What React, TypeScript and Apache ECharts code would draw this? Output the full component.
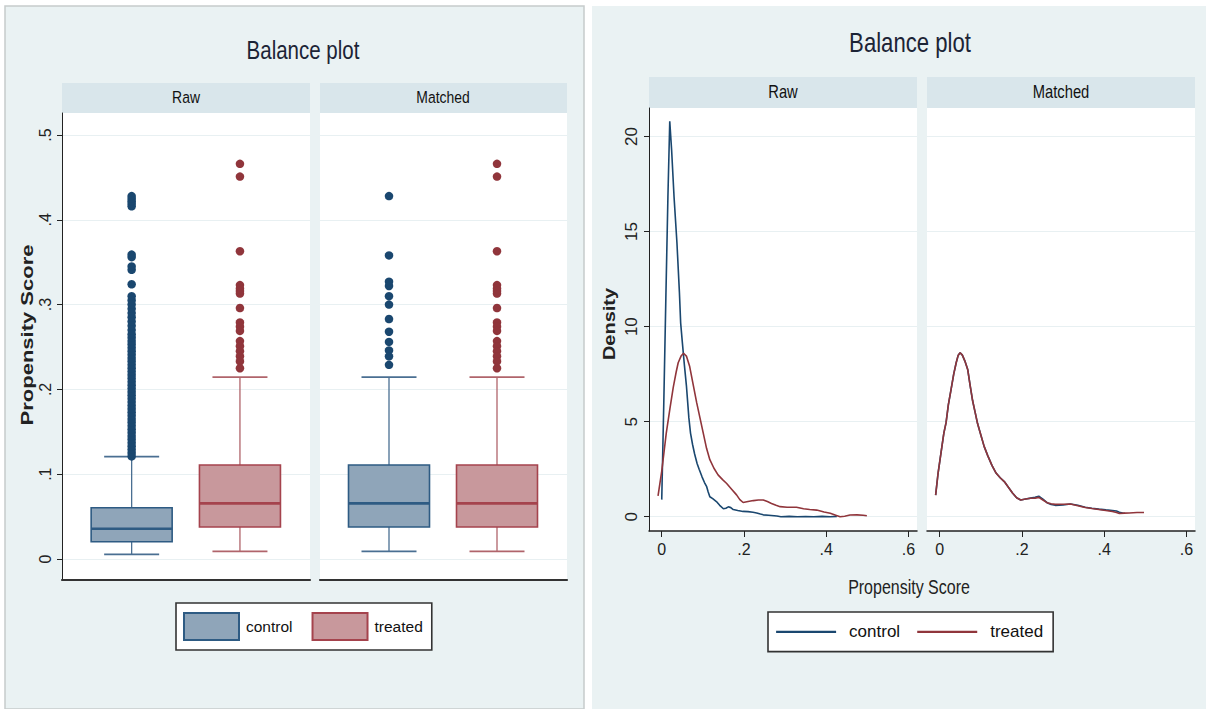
import React, { useEffect, useRef } from "react";
import * as echarts from "echarts";

// ---------- data ----------
const groups = ["control", "treated"];
const leftTicks = [0, 0.1, 0.2, 0.3, 0.4, 0.5];
const densityYTicks = [0, 5, 10, 15, 20];
const densityXTicks = [0, 0.2, 0.4, 0.6];

// [low whisker, q1, median, q3, high whisker]
const rawBoxControl = [0.0055, 0.0204, 0.0357, 0.0605, 0.1206];
const rawBoxTreated = [0.009, 0.0377, 0.0656, 0.1108, 0.2145];
const matchedBoxControl = [0.009, 0.0377, 0.0656, 0.1108, 0.2145];
const matchedBoxTreated = [0.009, 0.0377, 0.0656, 0.1108, 0.2145];

const rawOutControl = [
  0.121, 0.125, 0.129, 0.133, 0.137, 0.141, 0.145, 0.149, 0.153, 0.157, 0.161, 0.165,
  0.169, 0.173, 0.177, 0.181, 0.185, 0.189, 0.193, 0.197, 0.201, 0.205, 0.209, 0.213,
  0.217, 0.221, 0.225, 0.229, 0.233, 0.237, 0.241, 0.245, 0.249, 0.253, 0.257, 0.261,
  0.265, 0.27, 0.275, 0.28, 0.285, 0.29, 0.295, 0.3, 0.305, 0.31, 0.324, 0.341, 0.345,
  0.356, 0.359, 0.416, 0.419, 0.422, 0.425, 0.428,
];
const rawOutTreated = [
  0.466, 0.451, 0.363, 0.323, 0.319, 0.316, 0.313, 0.296, 0.279, 0.274, 0.269, 0.257,
  0.251, 0.245, 0.239, 0.233, 0.225,
];
const matchedOutControl = [
  0.428, 0.358, 0.327, 0.322, 0.31, 0.3, 0.283, 0.268, 0.256, 0.246, 0.239, 0.229,
];
const matchedOutTreated = [
  0.466, 0.451, 0.363, 0.323, 0.319, 0.316, 0.313, 0.296, 0.279, 0.274, 0.269, 0.257,
  0.251, 0.245, 0.239, 0.233, 0.225,
];

const rawControlDensity = [
  [0.0, 0.9], [0.005, 6.0], [0.01, 11.5], [0.015, 16.8], [0.0195, 20.8], [0.024, 19.3],
  [0.03, 16.8], [0.037, 14.4], [0.043, 11.8], [0.046, 10.2], [0.05, 9.2], [0.055, 8.0],
  [0.06, 6.9], [0.066, 5.2], [0.07, 4.4], [0.075, 3.8], [0.08, 3.3], [0.086, 2.8],
  [0.091, 2.5], [0.098, 2.1], [0.104, 1.8], [0.109, 1.6], [0.113, 1.3], [0.117, 1.05],
  [0.124, 0.95], [0.133, 0.8], [0.141, 0.6], [0.15, 0.42], [0.156, 0.45], [0.162, 0.52],
  [0.168, 0.48], [0.174, 0.38], [0.185, 0.33], [0.198, 0.28], [0.21, 0.27], [0.222, 0.24],
  [0.231, 0.2], [0.24, 0.14], [0.247, 0.1], [0.26, 0.08], [0.28, 0.04], [0.29, 0.0],
  [0.31, 0.02], [0.33, 0.0], [0.35, 0.01], [0.37, 0.0], [0.39, 0.02], [0.41, 0.0],
  [0.426, 0.02],
];
const rawTreatedDensity = [
  [-0.009, 1.1], [0.0, 2.4], [0.005, 3.3], [0.011, 4.4], [0.02, 5.7], [0.028, 6.8],
  [0.035, 7.6], [0.04, 8.1], [0.047, 8.45], [0.053, 8.6], [0.06, 8.45], [0.068, 7.9],
  [0.076, 7.0], [0.085, 6.0], [0.093, 5.2], [0.101, 4.4], [0.109, 3.6], [0.117, 3.0],
  [0.127, 2.55], [0.137, 2.2], [0.148, 1.95], [0.158, 1.75], [0.17, 1.45], [0.182, 1.15],
  [0.19, 0.9], [0.198, 0.75], [0.21, 0.8], [0.223, 0.85], [0.235, 0.88], [0.247, 0.88],
  [0.257, 0.8], [0.267, 0.7], [0.278, 0.6], [0.288, 0.53], [0.305, 0.5], [0.328, 0.5],
  [0.345, 0.42], [0.36, 0.38], [0.377, 0.35], [0.395, 0.25], [0.41, 0.18], [0.425, 0.07],
  [0.434, 0.0], [0.445, 0.03], [0.458, 0.09], [0.475, 0.1], [0.49, 0.08], [0.499, 0.05],
];
const matchedTreatedDensity = [
  [-0.01, 1.14], [-0.004, 2.3], [0.004, 3.5], [0.01, 4.4], [0.0154, 4.95], [0.021, 5.9],
  [0.0276, 6.7], [0.034, 7.5], [0.04, 8.1], [0.045, 8.5], [0.0496, 8.63], [0.055, 8.5],
  [0.061, 8.2], [0.068, 7.75], [0.074, 6.9], [0.08, 6.1], [0.086, 5.5], [0.092, 4.9],
  [0.1, 4.3], [0.108, 3.7], [0.117, 3.2], [0.127, 2.7], [0.137, 2.3], [0.147, 2.05],
  [0.157, 1.85], [0.167, 1.55], [0.177, 1.25], [0.187, 1.0], [0.197, 0.88], [0.209, 0.93],
  [0.221, 0.97], [0.232, 0.98], [0.241, 1.02], [0.251, 0.88], [0.261, 0.74], [0.271, 0.68],
  [0.281, 0.65], [0.3, 0.66], [0.318, 0.67], [0.336, 0.58], [0.354, 0.49], [0.37, 0.43],
  [0.387, 0.38], [0.404, 0.33], [0.42, 0.28], [0.43, 0.22], [0.437, 0.17], [0.449, 0.19],
  [0.461, 0.2], [0.48, 0.22], [0.497, 0.22],
];
const matchedControlDensity = [
  [-0.01, 1.14], [-0.004, 2.3], [0.004, 3.5], [0.01, 4.4], [0.0154, 4.95], [0.021, 5.9],
  [0.0276, 6.7], [0.034, 7.5], [0.04, 8.1], [0.045, 8.5], [0.0496, 8.63], [0.055, 8.5],
  [0.061, 8.2], [0.068, 7.75], [0.074, 6.9], [0.08, 6.1], [0.086, 5.5], [0.092, 4.9],
  [0.1, 4.3], [0.108, 3.7], [0.117, 3.2], [0.127, 2.7], [0.137, 2.3], [0.147, 2.05],
  [0.157, 1.85], [0.167, 1.55], [0.177, 1.25], [0.187, 1.0], [0.197, 0.88], [0.209, 0.93],
  [0.221, 0.98], [0.232, 1.02], [0.241, 1.08], [0.251, 0.93], [0.261, 0.74], [0.271, 0.64],
  [0.281, 0.6], [0.3, 0.62], [0.318, 0.67], [0.336, 0.6], [0.354, 0.5], [0.37, 0.45],
  [0.387, 0.4], [0.404, 0.36], [0.42, 0.33], [0.43, 0.3], [0.437, 0.24], [0.445, 0.2],
  [0.45, 0.18],
];

// ---------- styles ----------
const REG = "'Liberation Sans', Arial, sans-serif";
const NX = 0.82; // horizontal squeeze to mimic a narrow face
const PANEL = "#eaf2f3";
const STRIP = "#d9e6eb";
const GRIDC = "#e8f0f2";
const AX = "#222";
const CTRL = "#1a476f";
const TRT = "#90353b";
const boxStyle: Record<string, any> = {
  control: { fill: "#8fa5b9", stroke: "#2e5b83", whisker: "#4a6f92" },
  treated: { fill: "#c8989c", stroke: "#a5434d", whisker: "#b0646b" },
};

const fmt = (v: number) => (v === 0 ? "0" : String(v).replace(/^0\./, ".").replace(/^-0\./, "-."));

function narrowText(text: string, x: number, y: number, size: number, fill = "#111") {
  return {
    type: "text",
    x,
    y,
    scaleX: NX,
    style: { text, fontSize: size, fontFamily: REG, fill, align: "center", verticalAlign: "middle" },
  };
}

function boxSeries(name: string, idx: number, gridAxis: number, box: number[]) {
  const st = boxStyle[name];
  return {
    type: "custom",
    name,
    xAxisIndex: gridAxis,
    yAxisIndex: gridAxis,
    itemStyle: { color: st.fill, borderColor: st.stroke, borderWidth: 1.5 },
    encode: { x: 0, y: [1, 2, 3, 4, 5] },
    data: [[idx, ...box]],
    renderItem: (params: any, api: any) => {
      const c = api.value(0);
      const lo = api.coord([c, api.value(1)]);
      const q1 = api.coord([c, api.value(2)]);
      const md = api.coord([c, api.value(3)]);
      const q3 = api.coord([c, api.value(4)]);
      const hi = api.coord([c, api.value(5)]);
      const x = lo[0];
      const hw = 40.5;
      const cw = 27.5;
      const wl = { stroke: st.whisker, lineWidth: 1.3 };
      return {
        type: "group",
        children: [
          { type: "line", shape: { x1: x, y1: lo[1], x2: x, y2: q1[1] }, style: wl },
          { type: "line", shape: { x1: x, y1: q3[1], x2: x, y2: hi[1] }, style: wl },
          { type: "line", shape: { x1: x - cw, y1: lo[1], x2: x + cw, y2: lo[1] }, style: { ...wl, lineWidth: 1.8 } },
          { type: "line", shape: { x1: x - cw, y1: hi[1], x2: x + cw, y2: hi[1] }, style: { ...wl, lineWidth: 1.8 } },
          {
            type: "rect",
            shape: { x: x - hw, y: q3[1], width: 2 * hw, height: q1[1] - q3[1] },
            style: { fill: st.fill, stroke: st.stroke, lineWidth: 1.6 },
          },
          { type: "line", shape: { x1: x - hw, y1: md[1], x2: x + hw, y2: md[1] }, style: { stroke: st.stroke, lineWidth: 2.6 } },
        ],
      };
    },
    z: 3,
  };
}

function outSeries(name: string, idx: number, gridAxis: number, vals: number[], color: string) {
  return {
    type: "scatter",
    name,
    xAxisIndex: gridAxis,
    yAxisIndex: gridAxis,
    symbol: "circle",
    symbolSize: 8.5,
    itemStyle: { color, opacity: 1 },
    data: vals.map((v) => [idx, v]),
    z: 4,
  };
}

function lineSeries(name: string, gridAxis: number, data: number[][], color: string) {
  return {
    type: "line",
    name,
    xAxisIndex: gridAxis,
    yAxisIndex: gridAxis,
    showSymbol: false,
    symbol: "none",
    lineStyle: { color, width: 1.6 },
    itemStyle: { color },
    data,
    z: 3,
  };
}

export default function App() {
  const ref = useRef<HTMLDivElement>(null);
  useEffect(() => {
    if (!ref.current) return;
    const chart = echarts.init(ref.current, undefined, { renderer: "svg" });

    const leftY = (show: boolean) => ({
      min: -0.0248,
      max: 0.526,
      axisLine: { show, onZero: false, lineStyle: { color: AX, width: 1 } },
      axisTick: { show, length: 5, customValues: leftTicks, lineStyle: { color: AX } },
      axisLabel: {
        show,
        customValues: leftTicks,
        rotate: 90,
        margin: 9,
        fontSize: 16,
        color: AX,
        fontFamily: REG,
        formatter: fmt,
      },
      splitLine: { show: true, lineStyle: { color: GRIDC, width: 1.2 } },
    });
    const rightY = (show: boolean) => ({
      min: -0.75,
      max: 21.5,
      axisLine: { show, onZero: false, lineStyle: { color: AX, width: 1 } },
      axisTick: { show, length: 5, customValues: densityYTicks, lineStyle: { color: AX } },
      axisLabel: {
        show,
        customValues: densityYTicks,
        rotate: 90,
        margin: 9,
        fontSize: 17,
        color: AX,
        fontFamily: REG,
        formatter: fmt,
      },
      splitLine: { show: true, lineStyle: { color: GRIDC, width: 1.2 } },
    });
    const rightX = {
      min: -0.031,
      max: 0.621,
      axisLine: { show: true, onZero: false, lineStyle: { color: AX, width: 1.5 } },
      axisTick: { show: true, length: 6, customValues: densityXTicks, lineStyle: { color: AX } },
      axisLabel: {
        show: true,
        customValues: densityXTicks,
        margin: 10,
        fontSize: 16,
        color: AX,
        fontFamily: REG,
        formatter: fmt,
      },
      splitLine: { show: false },
    };
    const plainX = {
      min: 0,
      max: 1,
      axisLine: { show: true, onZero: false, lineStyle: { color: "#333", width: 2.2 } },
      axisTick: { show: false },
      axisLabel: { show: false },
      splitLine: { show: false },
    };
    const hiddenCat = { type: "category", data: groups, show: false, boundaryGap: true };
    const hiddenY = { type: "value", min: -0.0248, max: 0.526, show: false };

    const option: any = {
      animation: false,
      graphic: [
        { type: "rect", z: -10, shape: { x: 5, y: 6, width: 579, height: 703 }, style: { fill: PANEL, stroke: "#c6cbcc", lineWidth: 1.5 } },
        { type: "rect", z: -10, shape: { x: 592, y: 6, width: 614, height: 703 }, style: { fill: PANEL } },
        // strips left
        { type: "rect", shape: { x: 62, y: 83, width: 248, height: 30 }, style: { fill: STRIP } },
        { type: "rect", shape: { x: 320, y: 83, width: 247, height: 30 }, style: { fill: STRIP } },
        narrowText("Raw", 186, 97, 17),
        narrowText("Matched", 443, 97, 17),
        // strips right
        { type: "rect", shape: { x: 649, y: 77, width: 268, height: 31 }, style: { fill: STRIP } },
        { type: "rect", shape: { x: 927, y: 77, width: 268, height: 31 }, style: { fill: STRIP } },
        narrowText("Raw", 783, 91, 18),
        narrowText("Matched", 1061, 91, 18),
        // titles
        narrowText("Balance plot", 303, 50, 25, "#1c2436"),
        narrowText("Balance plot", 910, 43, 27, "#1c2436"),
        // axis titles
        { type: "text", x: 27, y: 335, rotation: Math.PI / 2, scaleY: 0.74, style: { text: "Propensity Score", fontSize: 22, fontWeight: "bold", fontFamily: REG, fill: "#222", align: "center", verticalAlign: "middle" } },
        { type: "text", x: 610, y: 324, rotation: Math.PI / 2, scaleY: 0.8, style: { text: "Density", fontSize: 20, fontWeight: "bold", fontFamily: REG, fill: "#222", align: "center", verticalAlign: "middle" } },
        narrowText("Propensity Score", 909, 587, 19.5, "#222"),
      ],
      grid: [
        { left: 62, top: 113, width: 248, height: 467, show: true, backgroundColor: "#fff", borderWidth: 0 },
        { left: 320, top: 113, width: 247, height: 467, show: true, backgroundColor: "#fff", borderWidth: 0 },
        { left: 77.5, top: 113, width: 216.6, height: 467 },
        { left: 335, top: 113, width: 216, height: 467 },
        { left: 649, top: 108, width: 268, height: 423, show: true, backgroundColor: "#fff", borderWidth: 0 },
        { left: 927, top: 108, width: 268, height: 423, show: true, backgroundColor: "#fff", borderWidth: 0 },
      ],
      xAxis: [
        { type: "value", gridIndex: 0, ...plainX },
        { type: "value", gridIndex: 1, ...plainX },
        { gridIndex: 2, ...hiddenCat },
        { gridIndex: 3, ...hiddenCat },
        { type: "value", gridIndex: 4, ...rightX },
        { type: "value", gridIndex: 5, ...rightX },
      ],
      yAxis: [
        { type: "value", gridIndex: 0, ...leftY(true) },
        { type: "value", gridIndex: 1, ...leftY(false) },
        { gridIndex: 2, ...hiddenY },
        { gridIndex: 3, ...hiddenY },
        { type: "value", gridIndex: 4, ...rightY(true) },
        { type: "value", gridIndex: 5, ...rightY(false) },
      ],
      legend: [
        {
          data: [
            { name: "control", icon: "rect" },
            { name: "treated", icon: "rect" },
          ],
          left: 176,
          top: 603,
          orient: "horizontal",
          padding: [9, 9, 9, 7],
          itemWidth: 55,
          itemHeight: 27,
          itemGap: 19,
          backgroundColor: "#fff",
          borderColor: "#333",
          borderWidth: 1.6,
          borderRadius: 0,
          selectedMode: false,
          textStyle: { fontSize: 15.5, fontFamily: REG, color: "#111", padding: [0, 0, 0, 2] },
        },
        {
          data: [{ name: "density control" }, { name: "density treated" }],
          left: 768,
          top: 612,
          orient: "horizontal",
          padding: [9, 10, 9, 7],
          itemWidth: 60,
          itemHeight: 27,
          itemGap: 16,
          backgroundColor: "#fff",
          borderColor: "#333",
          borderWidth: 1.6,
          borderRadius: 0,
          selectedMode: false,
          itemStyle: { opacity: 0 },
          lineStyle: { width: 2.2 },
          formatter: (n: string) => n.replace("density ", ""),
          textStyle: { fontSize: 17, fontFamily: REG, color: "#111", padding: [0, 0, 0, 8] },
        },
      ],
      series: [
        boxSeries("control", 0, 2, rawBoxControl),
        boxSeries("treated", 1, 2, rawBoxTreated),
        boxSeries("control", 0, 3, matchedBoxControl),
        boxSeries("treated", 1, 3, matchedBoxTreated),
        outSeries("raw outliers control", 0, 2, rawOutControl, CTRL),
        outSeries("raw outliers treated", 1, 2, rawOutTreated, TRT),
        outSeries("matched outliers control", 0, 3, matchedOutControl, CTRL),
        outSeries("matched outliers treated", 1, 3, matchedOutTreated, TRT),
        lineSeries("density control", 4, rawControlDensity, CTRL),
        lineSeries("density treated", 4, rawTreatedDensity, TRT),
        lineSeries("density control", 5, matchedControlDensity, CTRL),
        lineSeries("density treated", 5, matchedTreatedDensity, TRT),
      ],
    };
    chart.setOption(option);
    return () => chart.dispose();
  }, []);
  return (
    <div
      ref={ref}
      style={{ position: "absolute", left: 0, top: 0, width: 1206, height: 709, background: "#fff" }}
    />
  );
}
